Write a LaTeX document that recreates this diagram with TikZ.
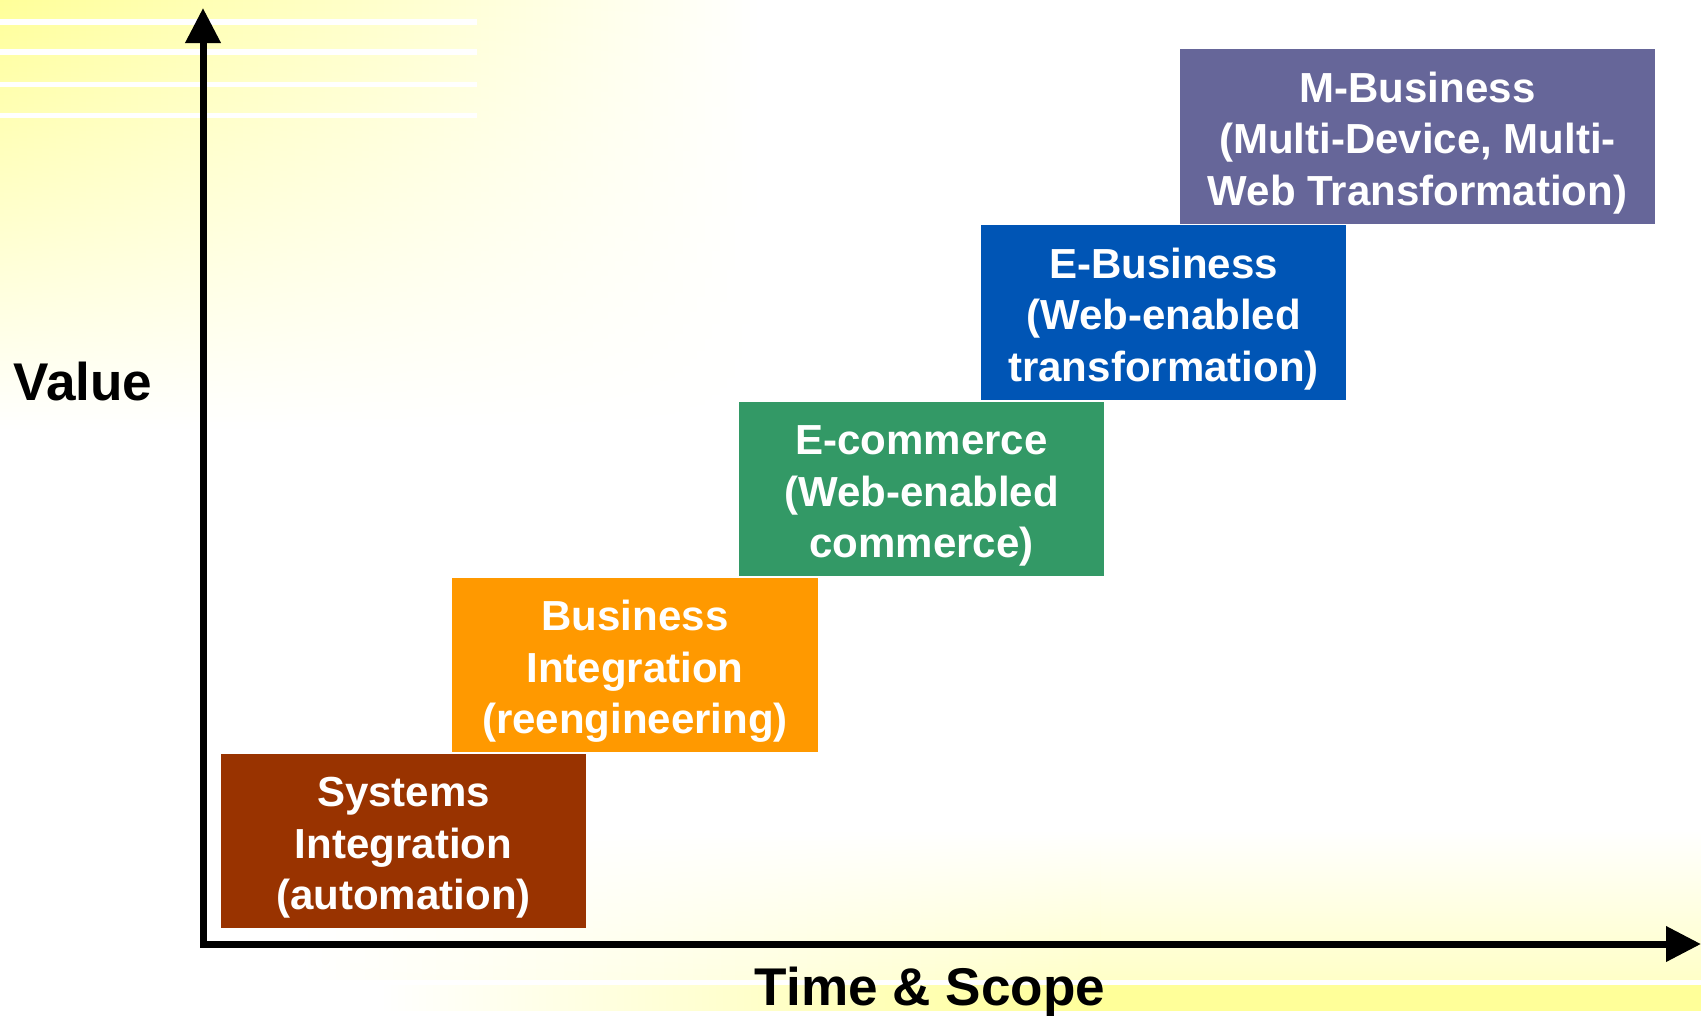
\documentclass[tikz,border=0pt]{standalone}
\usepackage{fontspec}
\setmainfont{Liberation Sans}
\usepackage{xcolor}
\usepackage{tikz}
\usetikzlibrary{arrows.meta,fadings}
\definecolor{bgyel}{HTML}{FFFF99}
\definecolor{sysred}{HTML}{993300}
\definecolor{bizorange}{HTML}{FF9900}
\definecolor{ecomgreen}{HTML}{339966}
\definecolor{ebizblue}{HTML}{0055B5}
\definecolor{mbizpurple}{HTML}{666699}
\newcommand{\steptop}{\rule{0pt}{12.3pt}}
\tikzset{
  axis/.style={draw=black, line width=0.07cm, line join=miter},
  stepbox/.style={rectangle, text=white, align=center, inner sep=0pt,
    minimum width=3.65cm, minimum height=1.74cm,
    font=\fontsize{11.95pt}{14.6pt}\selectfont\bfseries},
  axislab/.style={text=black, anchor=base, font=\fontsize{15.1pt}{18pt}\selectfont\bfseries},
  stripe/.style={draw=white, line width=0.05cm},
}

\begin{document}
\begin{tikzpicture}[x=0.01cm, y=-0.01cm]
  \useasboundingbox (0,0) rectangle (1701,1015);

  % background: yellow corners with white stripes
  \shade[left color=bgyel, middle color=bgyel!80!white, right color=white, path fading=south] (0,0) rectangle (760,430);
  \foreach \y in {22,52,84,115}
    \draw[stripe] (0,\y) -- (477,\y);
  \shade[left color=white, right color=bgyel!55!white, path fading=north] (300,830) rectangle (1100,982);
  \fill[bgyel!55!white, path fading=north] (1100,830) rectangle (1701,982);
  \shade[left color=white, right color=bgyel] (380,983) rectangle (1100,1015);
  \fill[bgyel] (1100,983) rectangle (1701,1015);
  \foreach \y in {982,1013}
    \draw[stripe] (300,\y) -- (1701,\y);

  % axes
  \coordinate (O) at (203,944);
  \coordinate (Ytop) at (203,8);
  \coordinate (Xend) at (1701,944);
  \draw[axis, {Triangle[length=0.35cm, width=0.34cm]}-{Triangle[length=0.35cm, width=0.34cm]}] (Ytop) -- (O) -- (Xend);

  \node[axislab] (value) at (83,400) {Value};
  \node[axislab] (timescope) at (930,1005) {Time \& Scope};

  % steps
  \node[stepbox, fill=sysred] (sys) at (403.5,841) {\steptop Systems\\Integration\\(automation)};
  \node[stepbox, fill=bizorange] (biz) at (635,665) {\steptop Business\\Integration\\(reengineering)};
  \node[stepbox, fill=ecomgreen] (ecom) at (921.5,489) {\steptop E-commerce\\(Web-enabled\\commerce)};
  \node[stepbox, fill=ebizblue] (ebiz) at (1163.5,312.5) {\steptop E-Business\\(Web-enabled\\transformation)};
  \node[stepbox, fill=mbizpurple, minimum width=4.75cm] (mbiz) at (1417.5,136.5) {\steptop M-Business\\(Multi-Device, Multi-\\Web Transformation)};
\end{tikzpicture}
\end{document}
